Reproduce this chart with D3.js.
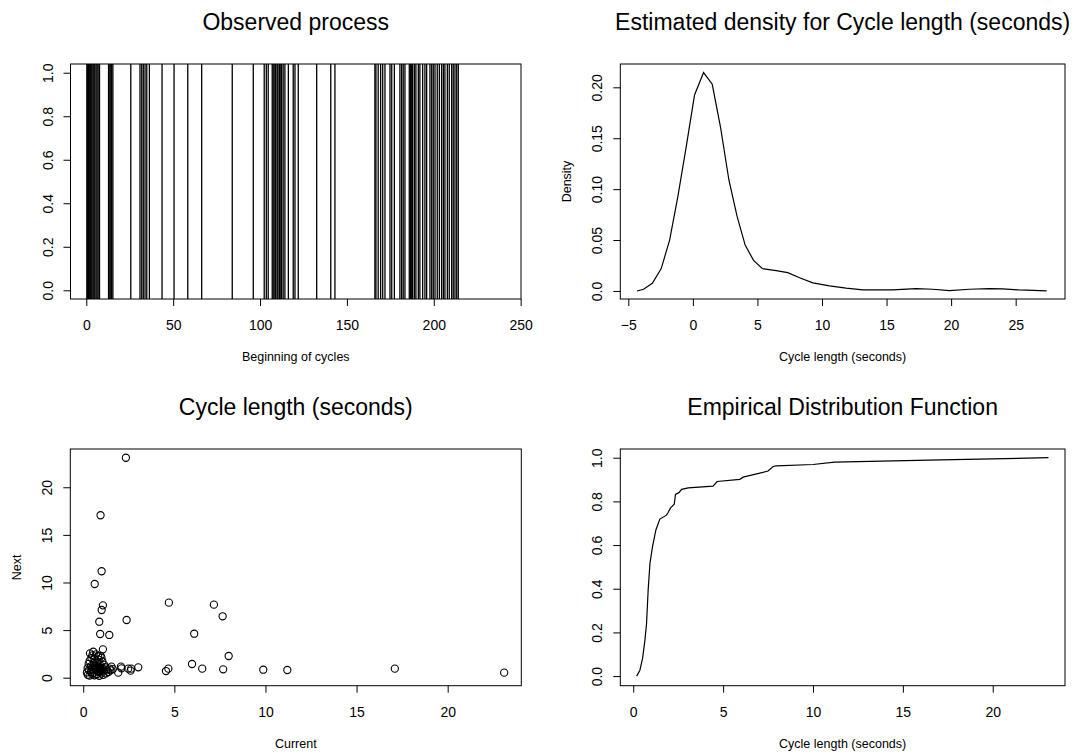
<!DOCTYPE html>
<html>
<head>
<meta charset="utf-8">
<script src="https://cdn.jsdelivr.net/npm/d3@7"></script>
<style>
  body { margin: 0; background: #fff; }
  text { font-family: "Liberation Sans", Arial, sans-serif; fill: #000; }
</style>
</head>
<body>
<div id="chart"></div>
<script>
// Beginning of each cycle (seconds)
var beginnings = [0.3, 0.8, 1.3, 1.7, 2.3, 2.8, 3.3, 3.9, 4.4, 4.9, 5.6, 6.2, 6.8, 7.6,
  12.8, 13.5, 14.1, 14.6, 15.3, 25.6, 30.9, 31.9, 32.8, 33.8, 34.8, 36.3,
  43.6, 50.5, 58.4, 66.4, 84.0, 96.1, 102.4, 103.6, 104.7,
  107.0, 107.6, 108.5, 109.0, 109.8, 110.3, 111.1, 111.6, 112.4, 113.3, 114.3,
  116.3, 119.1, 120.1, 122.0, 132.6, 140.7, 143.1,
  166.1, 166.7, 168.0, 169.4, 170.6, 171.9, 174.8, 175.8, 177.3, 180.5, 181.5, 182.4, 183.4,
  185.9, 186.7, 187.3, 187.8, 188.8, 189.7, 191.1, 192.0, 193.6, 194.9, 195.9, 197.8,
  198.8, 199.7, 200.7, 202.0, 203.2, 204.5, 205.5, 206.4, 207.8, 208.9, 210.3, 211.2,
  212.2, 213.2, 214.1];

// Kernel density estimate
var densityX = [-4.33, -3.82, -3.14, -2.45, -1.80, -1.16, -0.51, 0.13, 0.83, 1.50, 2.14, 2.79,
  3.43, 4.05, 4.70, 5.37, 6.45, 7.35, 8.26, 9.29, 10.58, 11.87, 13.16, 15.48, 17.29, 18.58,
  19.87, 21.42, 22.96, 23.99, 25.29, 27.4];
var densityY = [0, 0.0017, 0.0075, 0.022, 0.050, 0.093, 0.142, 0.1925, 0.2145, 0.203, 0.161, 0.109,
  0.073, 0.045, 0.030, 0.022, 0.020, 0.018, 0.013, 0.008, 0.005, 0.0027, 0.001, 0.001, 0.0023, 0.0017,
  0.0003, 0.0017, 0.0023, 0.002, 0.001, 0];

// Lag plot: current cycle length vs next
var current = [2.34, 0.95, 1.01, 0.63, 4.70, 7.17, 1.08, 1.01, 7.65, 2.38,
  0.88, 6.09, 0.93, 1.43, 1.08, 7.98, 5.97, 6.53, 7.68, 9.88,
  11.2, 17.1, 23.1, 4.67, 4.54, 3.02, 2.60, 2.47, 2.07, 1.92,
  2.63, 2.10, 1.55, 1.62, 1.50, 1.38, 1.25, 1.45, 1.30, 1.20,
  0.37, 0.55, 0.82, 0.50, 0.70, 0.95, 0.45, 0.62, 0.35, 0.85, 1.00, 0.30, 0.58, 0.78, 1.05, 0.42, 0.66, 0.90, 1.15,
  0.72, 0.80, 0.88, 0.95, 0.85, 0.75, 0.92, 1.00, 0.68, 0.82, 0.98, 1.08, 0.78, 0.90, 1.12, 0.65, 0.87, 0.93,
  0.25, 0.35, 0.50, 0.62, 0.75, 0.88, 1.00, 1.10, 0.20, 0.42, 0.55, 0.30, 0.48, 0.24];
var next = [23.1, 17.06, 11.18, 9.84, 7.88, 7.67, 7.60, 7.11, 6.45, 6.06,
  5.88, 4.62, 4.59, 4.49, 2.98, 2.28, 1.44, 0.95, 0.88, 0.84,
  0.81, 0.95, 0.53, 0.95, 0.70, 1.09, 0.74, 0.95, 1.16, 0.53,
  0.95, 0.98, 1.16, 0.90, 0.78, 0.60, 0.45, 0.95, 0.85, 1.10,
  2.56, 2.73, 2.28, 2.35, 2.45, 2.30, 2.05, 1.95, 1.75, 1.90, 2.10, 1.45, 1.55, 1.62, 1.70, 1.20, 1.30, 1.40, 1.35,
  0.95, 0.85, 0.78, 0.92, 1.02, 0.70, 1.10, 0.80, 0.88, 0.65, 0.70, 0.95, 1.15, 0.60, 0.75, 1.05, 0.90, 0.83,
  0.30, 0.22, 0.40, 0.25, 0.35, 0.20, 0.45, 0.30, 0.55, 0.60, 0.52, 0.80, 0.95, 1.00];

// Empirical distribution function
var ecdfX = [0.19, 0.37, 0.52, 0.65, 0.74, 0.83, 0.93, 1.07, 1.26, 1.48, 1.85, 1.93, 2.09, 2.28,
  2.35, 2.54, 2.69, 3.06, 4.44, 4.67, 5.93, 6.11, 7.5, 7.78, 7.96, 10.0, 11.2, 17.1, 23.1];
var ecdfY = [0, 0.027, 0.081, 0.165, 0.241, 0.394, 0.516, 0.592, 0.669, 0.719, 0.737, 0.748, 0.772, 0.787,
  0.832, 0.840, 0.855, 0.862, 0.870, 0.891, 0.901, 0.911, 0.939, 0.959, 0.963, 0.969, 0.980, 0.99, 1.0];

// Tick values and labels
var processXTicks = [0, 50, 100, 150, 200, 250];
var unitTicks = [0, 0.2, 0.4, 0.6, 0.8, 1.0];
var densityXTicks = [-5, 0, 5, 10, 15, 20, 25];
var densityYTicks = [0, 0.05, 0.10, 0.15, 0.20];
var densityYLabels = ["0.0", "0.05", "0.10", "0.15", "0.20"];
var lagTicks = [0, 5, 10, 15, 20];

var svgWidth = 1090;
var svgHeight = 754;

var svg = d3.select("#chart")
  .append("svg")
  .attr("width", svgWidth)
  .attr("height", svgHeight);

var titleSize = 23, tickSize = 14, labelSize = 12.5;

// Draws box, axes, title and labels for one panel and returns its scales
function drawPanel(p) {
  var x = d3.scaleLinear().domain(p.xDomain).range([p.left, p.right]);
  var y = d3.scaleLinear().domain(p.yDomain).range([p.bottom, p.top]);

  var xAxis = svg.append("g")
    .attr("transform", `translate(0, ${p.bottom})`)
    .call(d3.axisBottom(x).tickValues(p.xTicks).tickFormat(p.xFormat)
      .tickSize(7).tickSizeOuter(0).tickPadding(14));
  xAxis.select(".domain").remove();
  xAxis.selectAll("text").attr("font-size", tickSize).attr("font-family", null);

  var yAxis = svg.append("g")
    .attr("transform", `translate(${p.left}, 0)`)
    .call(d3.axisLeft(y).tickValues(p.yTicks).tickFormat(p.yFormat)
      .tickSize(7).tickSizeOuter(0));
  yAxis.select(".domain").remove();
  yAxis.selectAll("text")
    .attr("font-size", tickSize)
    .attr("font-family", null)
    .attr("text-anchor", "middle")
    .attr("x", 0)
    .attr("y", -18)
    .attr("dy", null)
    .attr("transform", "rotate(-90)");

  svg.selectAll("g.tick line").attr("stroke", "#000");

  svg.append("rect")
    .attr("x", p.left)
    .attr("y", p.top)
    .attr("width", p.right - p.left)
    .attr("height", p.bottom - p.top)
    .attr("fill", "none")
    .attr("stroke", "#000");

  var cx = (p.left + p.right) / 2;
  svg.append("text")
    .attr("x", cx)
    .attr("y", p.top - 34)
    .attr("text-anchor", "middle")
    .attr("font-size", titleSize)
    .text(p.title);

  svg.append("text")
    .attr("x", cx)
    .attr("y", p.bottom + 62)
    .attr("text-anchor", "middle")
    .attr("font-size", labelSize)
    .text(p.xLabel);

  if (p.yLabel) {
    svg.append("text")
      .attr("transform", `translate(${p.left - 49}, ${(p.top + p.bottom) / 2}) rotate(-90)`)
      .attr("text-anchor", "middle")
      .attr("font-size", labelSize)
      .text(p.yLabel);
  }
  return { x: x, y: y };
}

var fmt1 = d3.format(".1f");

// Observed process
var tl = drawPanel({
  left: 70.5, right: 521, top: 64, bottom: 299,
  xDomain: [-9.1, 250.2], yDomain: [-0.04, 1.04],
  xTicks: processXTicks, xFormat: d3.format("d"),
  yTicks: unitTicks, yFormat: fmt1,
  title: "Observed process", xLabel: "Beginning of cycles"
});
svg.append("g").selectAll("line")
  .data(beginnings)
  .enter()
  .append("line")
  .attr("x1", d => tl.x(d))
  .attr("x2", d => tl.x(d))
  .attr("y1", tl.y(1.04))
  .attr("y2", tl.y(-0.04))
  .attr("stroke", "#000")
  .attr("stroke-width", 1.3);

// Estimated density
var tr = drawPanel({
  left: 620.3, right: 1065, top: 64, bottom: 299,
  xDomain: [-5.62, 28.82], yDomain: [-0.0079, 0.2229],
  xTicks: densityXTicks, xFormat: d3.format("d"),
  yTicks: densityYTicks, yFormat: (d, i) => densityYLabels[i],
  title: "Estimated density for Cycle length (seconds)",
  xLabel: "Cycle length (seconds)", yLabel: "Density"
});
var densityLine = d3.line()
  .x((d, i) => tr.x(densityX[i]))
  .y((d, i) => tr.y(densityY[i]));
svg.append("path")
  .datum(densityX)
  .attr("d", densityLine)
  .attr("fill", "none")
  .attr("stroke", "#000")
  .attr("stroke-width", 1.2);

// Lag plot
var bl = drawPanel({
  left: 70.3, right: 521.3, top: 449, bottom: 685.7,
  xDomain: [-0.71, 24.04], yDomain: [-0.84, 24.02],
  xTicks: lagTicks, xFormat: d3.format("d"),
  yTicks: lagTicks, yFormat: d3.format("d"),
  title: "Cycle length (seconds)", xLabel: "Current", yLabel: "Next"
});
svg.append("g").selectAll("circle")
  .data(current)
  .enter()
  .append("circle")
  .attr("cx", d => bl.x(d))
  .attr("cy", (d, i) => bl.y(next[i]))
  .attr("r", 3.6)
  .attr("fill", "none")
  .attr("stroke", "#000")
  .attr("stroke-width", 1.1);

// Empirical distribution function
var br = drawPanel({
  left: 620.3, right: 1065, top: 449, bottom: 685.7,
  xDomain: [-0.72, 24.02], yDomain: [-0.044, 1.0399],
  xTicks: lagTicks, xFormat: d3.format("d"),
  yTicks: unitTicks, yFormat: fmt1,
  title: "Empirical Distribution Function", xLabel: "Cycle length (seconds)"
});
var ecdfLine = d3.line()
  .x((d, i) => br.x(ecdfX[i]))
  .y((d, i) => br.y(ecdfY[i]));
svg.append("path")
  .datum(ecdfX)
  .attr("d", ecdfLine)
  .attr("fill", "none")
  .attr("stroke", "#000")
  .attr("stroke-width", 1.2);
</script>
</body>
</html>
